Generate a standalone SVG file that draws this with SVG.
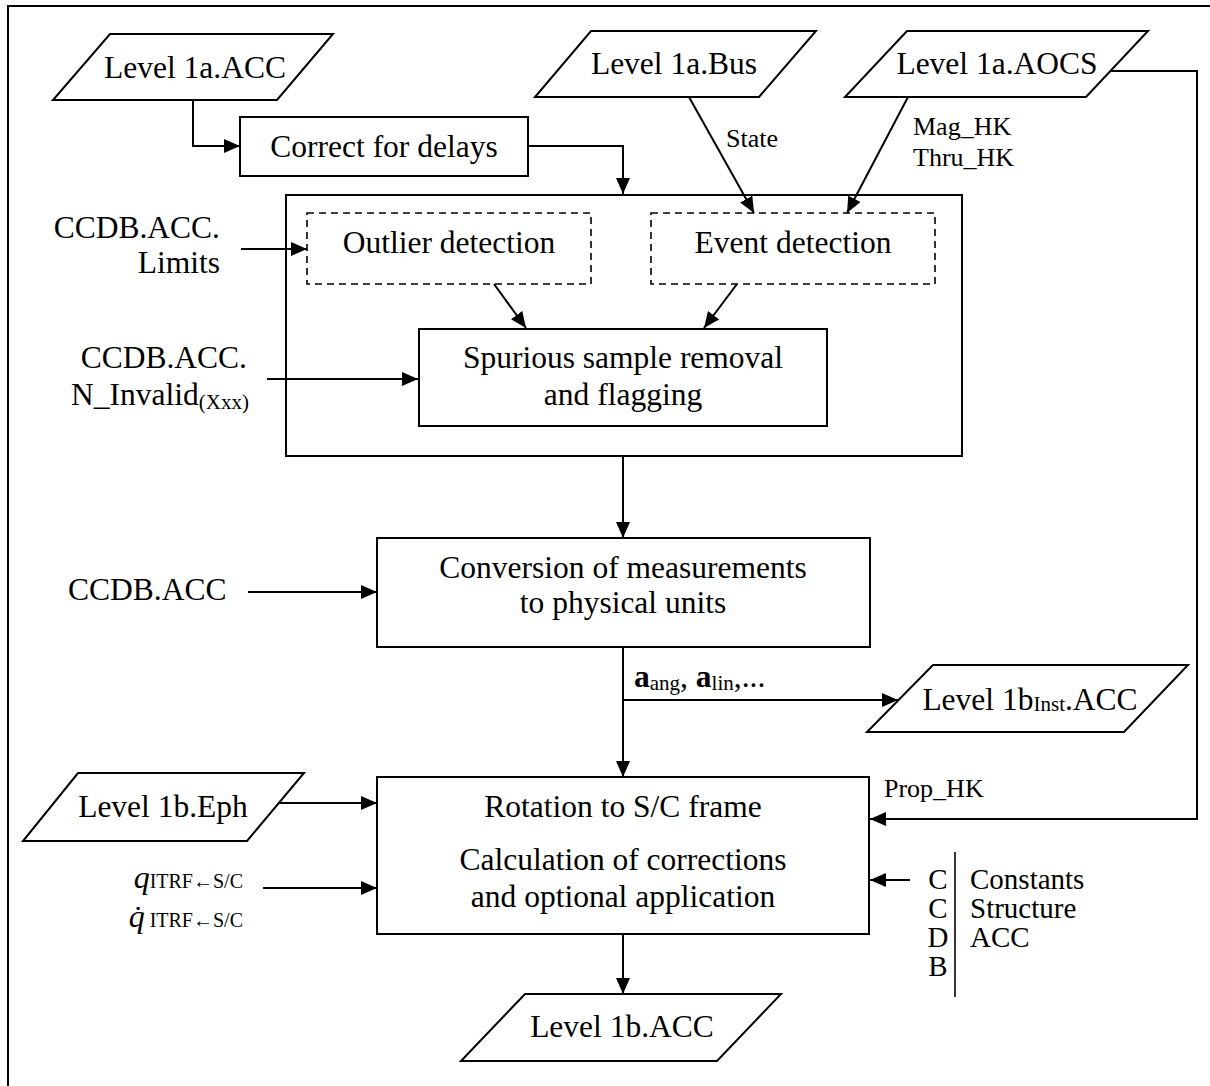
<svg xmlns="http://www.w3.org/2000/svg" width="1210" height="1086" viewBox="0 0 1210 1086">
  <style>
    .frame { fill: #fff; stroke: #000; stroke-width: 2; }
    .box { fill: #fff; stroke: #000; stroke-width: 2; }
    .dash { fill: none; stroke: #000; stroke-width: 1.6; stroke-dasharray: 7 5; }
    .wire { fill: none; stroke: #000; stroke-width: 2; }
    .arr { marker-end: url(#ah); }
    .bar { fill: none; stroke: #000; stroke-width: 1.6; }
    text { font-family: "Liberation Serif", "Times New Roman", serif; fill: #000; }
    .t { font-size: 31.5px; text-anchor: middle; }
    .r { font-size: 31.5px; text-anchor: end; }
    .l { font-size: 31.5px; text-anchor: start; }
    .s { font-size: 26px; text-anchor: start; }
    .k { font-size: 29px; }
  </style>
  <defs>
    <marker id="ah" markerUnits="userSpaceOnUse" markerWidth="16" markerHeight="14" refX="16" refY="7" orient="auto">
      <path d="M0,0 L16,7 L0,14 Z" fill="#000"/>
    </marker>
  </defs>

  <!-- page frame (right and bottom edges run off the sheet) -->
  <rect class="frame" x="8" y="6" width="1220" height="1100"/>

  <g id="level1a-acc">
    <polygon class="box" points="110,34 333,34 277,100 53,100"/>
    <text class="t" x="195" y="78">Level 1a.ACC</text>
  </g>

  <g id="level1a-bus">
    <polygon class="box" points="591,31 816,31 759,97 535,97"/>
    <text class="t" x="674" y="74">Level 1a.Bus</text>
  </g>

  <g id="level1a-aocs">
    <polygon class="box" points="907,31 1148,31 1086,97 845,97"/>
    <text class="t" x="997" y="74">Level 1a.AOCS</text>
  </g>

  <g id="correct-delays">
    <rect class="box" x="240" y="117" width="288" height="59"/>
    <text class="t" x="384" y="157">Correct for delays</text>
  </g>

  <g id="screening">
    <rect class="box" x="286" y="195" width="676" height="261"/>
  </g>

  <g id="outlier-detection">
    <rect class="dash" x="307" y="213" width="284" height="71"/>
    <text class="t" x="449" y="253">Outlier detection</text>
  </g>

  <g id="event-detection">
    <rect class="dash" x="651" y="213" width="284" height="71"/>
    <text class="t" x="793" y="253">Event detection</text>
  </g>

  <g id="spurious-removal">
    <rect class="box" x="419" y="329" width="408" height="97"/>
    <text class="t" x="623" y="368">Spurious sample removal</text>
    <text class="t" x="623" y="405">and flagging</text>
  </g>

  <g id="ccdb-limits">
    <text class="r" x="220" y="238">CCDB.ACC.</text>
    <text class="r" x="220" y="273">Limits</text>
  </g>

  <g id="ccdb-ninvalid">
    <text class="r" x="247" y="368">CCDB.ACC.</text>
    <text class="r" x="249" y="405">N_Invalid<tspan font-size="21" dy="4">(Xxx)</tspan></text>
  </g>

  <g id="ccdb-acc">
    <text class="l" x="68" y="600">CCDB.ACC</text>
  </g>

  <g id="conversion">
    <rect class="box" x="377" y="538" width="493" height="109"/>
    <text class="t" x="623" y="578">Conversion of measurements</text>
    <text class="t" x="623" y="613">to physical units</text>
  </g>

  <g id="level1b-inst-acc">
    <polygon class="box" points="933,665 1188,665 1124,732 867,732"/>
    <text class="t" x="1030" y="710">Level 1b<tspan font-size="21" dy="1">Inst</tspan><tspan dy="-1">.ACC</tspan></text>
  </g>

  <g id="level1b-eph">
    <polygon class="box" points="78,773 304,773 247,841 23,841"/>
    <text class="t" x="163" y="817">Level 1b.Eph</text>
  </g>

  <g id="attitude">
    <text class="r" x="243" y="888"><tspan font-size="32" font-style="italic">q</tspan><tspan font-size="20">ITRF←S/C</tspan></text>
    <text class="r" x="243" y="927"><tspan font-size="32" font-style="italic">q̇</tspan><tspan font-size="20"> ITRF←S/C</tspan></text>
  </g>

  <g id="rotation">
    <rect class="box" x="377" y="777" width="492" height="157"/>
    <text class="t" x="623" y="817">Rotation to S/C frame</text>
    <text class="t" x="623" y="870">Calculation of corrections</text>
    <text class="t" x="623" y="907">and optional application</text>
  </g>

  <g id="ccdb-tables">
    <text class="t k" x="938" y="889">C</text>
    <text class="t k" x="938" y="918">C</text>
    <text class="t k" x="938" y="947">D</text>
    <text class="t k" x="938" y="976">B</text>
    <line class="bar" x1="955" y1="852" x2="955" y2="997"/>
    <text class="l k" x="970" y="889">Constants</text>
    <text class="l k" x="970" y="918">Structure</text>
    <text class="l k" x="970" y="947">ACC</text>
  </g>

  <g id="level1b-acc">
    <polygon class="box" points="525,994 781,994 717,1061 461,1061"/>
    <text class="t" x="622" y="1037">Level 1b.ACC</text>
  </g>

  <!-- edge labels -->
  <g id="edge-labels">
    <text class="s" x="726" y="147">State</text>
    <text class="s" x="913" y="135">Mag_HK</text>
    <text class="s" x="913" y="166">Thru_HK</text>
    <text class="s" x="884" y="797">Prop_HK</text>
    <text class="l" x="634" y="687" font-size="31"><tspan font-weight="bold">a</tspan><tspan font-size="21" dy="3">ang</tspan><tspan dy="-3">, </tspan><tspan font-weight="bold">a</tspan><tspan font-size="21" dy="3">lin</tspan><tspan dy="-3">,...</tspan></text>
  </g>

  <!-- connectors, drawn last so arrow tips sit on top of the boxes -->
  <g id="connectors">
    <path class="wire arr" d="M193,100 V146 H240"/>
    <path class="wire arr" d="M528,146 H623 V194"/>
    <path class="wire arr" d="M689,97 L754,213"/>
    <path class="wire arr" d="M908,97 L847,213"/>
    <path class="wire arr" d="M1110,71 H1197 V819 H870"/>
    <path class="wire arr" d="M241,249 H307"/>
    <path class="wire arr" d="M267,379 H418"/>
    <path class="wire arr" d="M494,284 L526,328"/>
    <path class="wire arr" d="M737,284 L704,328"/>
    <path class="wire arr" d="M623,456 V538"/>
    <path class="wire arr" d="M248,592 H377"/>
    <path class="wire arr" d="M623,647 V777"/>
    <path class="wire arr" d="M623,700 H898"/>
    <path class="wire arr" d="M279,803 H377"/>
    <path class="wire arr" d="M263,888 H377"/>
    <path class="wire arr" d="M910,880 H870"/>
    <path class="wire arr" d="M623,934 V994"/>
  </g>
</svg>
